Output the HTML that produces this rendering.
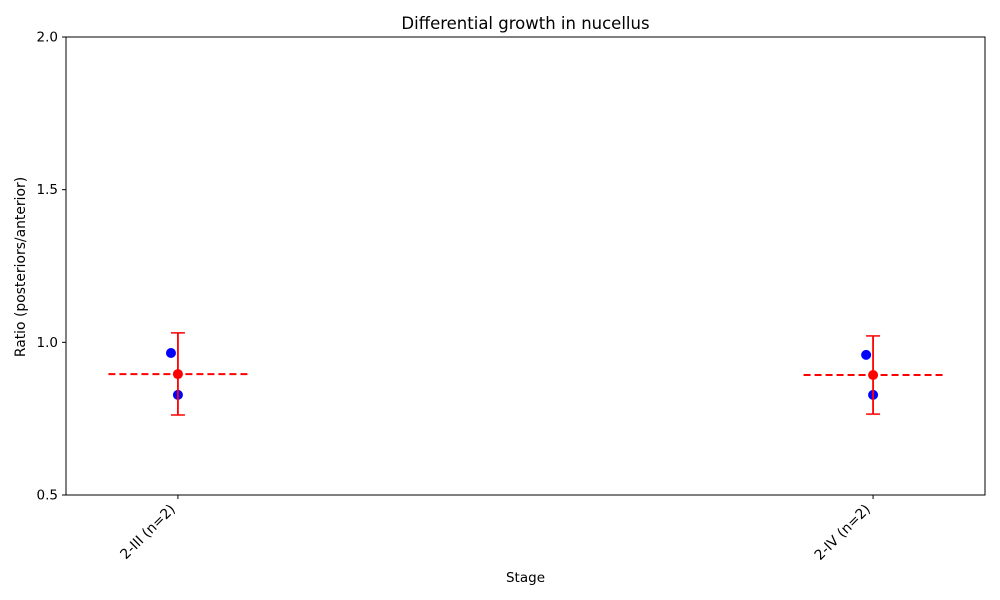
<!DOCTYPE html>
<html><head><meta charset="utf-8"><style>
html,body{margin:0;padding:0;background:#fff;}
svg{display:block;font-family:"DejaVu Sans","Liberation Sans",sans-serif;}
</style></head><body>
<svg id="chart" width="1000" height="600" xmlns="http://www.w3.org/2000/svg">
<rect x="0" y="0" width="1000" height="600" fill="#fff"/>
<text x="525.5" y="29" text-anchor="middle" font-size="16.5">Differential growth in nucellus</text>
<g id="plot"></g>
<rect x="66" y="37" width="919" height="458" fill="none" stroke="#000" stroke-width="1"/>
<text x="525.5" y="582" text-anchor="middle" font-size="13.5">Stage</text>
<text transform="translate(25,267) rotate(-90)" text-anchor="middle" font-size="13.9">Ratio (posteriors/anterior)</text>
</svg>
<script>
const categories = ["2-III (n=2)", "2-IV (n=2)"];
const pointValues = [[0.965, 0.828], [0.959, 0.828]];
const pointJitter = [[-0.01, 0.0], [-0.01, 0.0]];
const means = [0.896, 0.893];
const errLow = [0.762, 0.765];
const errHigh = [1.031, 1.021];
const yTicks = [0.5, 1.0, 1.5, 2.0];
const yTickLabels = ["0.5", "1.0", "1.5", "2.0"];

const NS = "http://www.w3.org/2000/svg";
const L = 66, R = 985, T = 37, B = 495;
const xMin = -0.161, xMax = 1.161, yMin = 0.5, yMax = 2.0;
const xs = v => L + (v - xMin) / (xMax - xMin) * (R - L);
const ys = v => B - (v - yMin) / (yMax - yMin) * (B - T);
const svg = document.getElementById("chart");
const plot = document.getElementById("plot");
function mk(tag, attrs, parent) {
  const e = document.createElementNS(NS, tag);
  for (const k in attrs) e.setAttribute(k, attrs[k]);
  (parent || plot).appendChild(e);
  return e;
}
yTicks.forEach((t, i) => {
  const y = ys(t);
  const tk = mk("line", {x1: L - 4, x2: L, y1: y, y2: y, stroke: "#000"}, svg);
  
  
  const tx = mk("text", {x: L - 8, y: y + 4.5, "text-anchor": "end", "font-size": "13.5"}, svg);
  tx.textContent = yTickLabels[i];
  
  
});
categories.forEach((c, i) => {
  const x = xs(i);
  const tk = mk("line", {x1: x, x2: x, y1: B, y2: B + 4, stroke: "#000"}, svg);
  
  
  const tx = mk("text", {transform: `translate(${x - 2},${B + 15}) rotate(-45)`, "text-anchor": "end", "font-size": "13.9"}, svg);
  tx.textContent = c;
  
  

  const ml = mk("line", {x1: xs(i - 0.1), x2: xs(i + 0.1), y1: ys(means[i]), y2: ys(means[i]), stroke: "#ff0000", "stroke-width": 2, "stroke-dasharray": "7,4"});
  
  
  pointValues[i].forEach((v, j) => {
    const p = mk("circle", {cx: xs(i + pointJitter[i][j]), cy: ys(v), r: 5, fill: "#0000ff"});
    
    
  });
  const eb = mk("line", {x1: x, x2: x, y1: ys(errLow[i]), y2: ys(errHigh[i]), stroke: "#ff0000", "stroke-width": 1.8});
  
  
  [errLow[i], errHigh[i]].forEach(v => {
    const cap = mk("line", {x1: x - 7, x2: x + 7, y1: ys(v), y2: ys(v), stroke: "#ff0000", "stroke-width": 1.5});
    
    
  });
  const m = mk("circle", {cx: x, cy: ys(means[i]), r: 5, fill: "#ff0000"});
  
  
});
</script>
</body></html>
